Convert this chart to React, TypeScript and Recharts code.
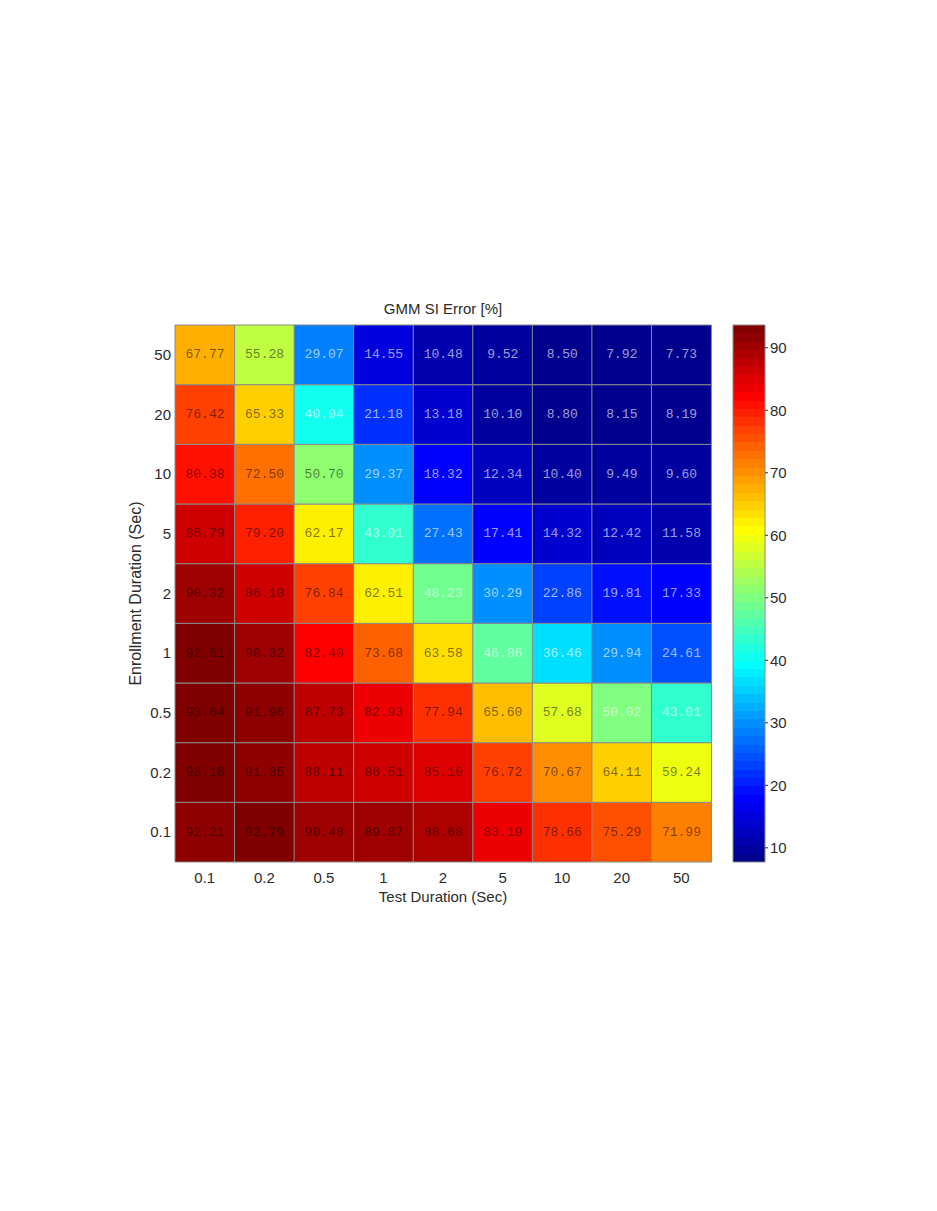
import React from 'react';
import { BarChart, Bar, XAxis, YAxis, Cell, LabelList } from 'recharts';

const testDurations = ['0.1', '0.2', '0.5', '1', '2', '5', '10', '20', '50'];
const enrollDurations = ['0.1', '0.2', '0.5', '1', '2', '5', '10', '20', '50'];

// SI error [%] for each enrollment duration, columns follow testDurations
const enroll0_1 = [92.21, 92.79, 90.48, 89.87, 88.68, 83.19, 78.66, 75.29, 71.99];
const enroll0_2 = [93.18, 91.35, 88.11, 86.51, 85.1, 76.72, 70.67, 64.11, 59.24];
const enroll0_5 = [93.64, 91.96, 87.73, 82.93, 77.94, 65.6, 57.68, 50.02, 43.01];
const enroll1 = [92.61, 90.32, 82.4, 73.68, 63.58, 46.86, 36.46, 29.94, 24.61];
const enroll2 = [90.32, 86.1, 76.84, 62.51, 48.23, 30.29, 22.86, 19.81, 17.33];
const enroll5 = [85.79, 79.2, 62.17, 43.01, 27.43, 17.41, 14.32, 12.42, 11.58];
const enroll10 = [80.38, 72.5, 50.7, 29.37, 18.32, 12.34, 10.4, 9.49, 9.6];
const enroll20 = [76.42, 65.33, 40.04, 21.18, 13.18, 10.1, 8.8, 8.15, 8.19];
const enroll50 = [67.77, 55.28, 29.07, 14.55, 10.48, 9.52, 8.5, 7.92, 7.73];

const colorbarTicks = [10, 20, 30, 40, 50, 60, 70, 80, 90];

// bottom row first (stack order)
const enrollRows = [enroll0_1, enroll0_2, enroll0_5, enroll1, enroll2, enroll5, enroll10, enroll20, enroll50];

const allValues = enrollRows.flat();
const minV = Math.min(...allValues);
const maxV = Math.max(...allValues);
const midV = (minV + maxV) / 2;

// matlab jet(64)
const JET: number[][] = (() => {
  const m = 64;
  const n = 16;
  const u: number[] = [];
  for (let i = 1; i <= n; i++) u.push(i / n);
  for (let i = 1; i < n; i++) u.push(1);
  for (let i = n; i >= 1; i--) u.push(i / n);
  const J = Array.from({ length: m }, () => [0, 0, 0]);
  u.forEach((val, k) => {
    const g = 9 + k;
    const r = g + n;
    const b = g - n;
    if (r <= m) J[r - 1][0] = val;
    J[g - 1][1] = val;
    if (b >= 1) J[b - 1][2] = val;
  });
  return J;
})();

const toRgb = (c: number[]) =>
  `rgb(${Math.round(c[0] * 255)},${Math.round(c[1] * 255)},${Math.round(c[2] * 255)})`;

function jetColor(v: number): string {
  const t = (v - minV) / (maxV - minV);
  const idx = Math.min(63, Math.max(0, Math.floor(t * 64)));
  return toRgb(JET[idx]);
}

const cellData = testDurations.map((test, i) => {
  const row: Record<string, any> = { test };
  enrollRows.forEach((vals, j) => {
    row[`u${j}`] = 1;
    row[`v${j}`] = vals[i];
  });
  return row;
});

const colorbarData = [{ name: 'scale', range: [minV, maxV] }];

const sansFont = "'Liberation Sans', Arial, Helvetica, sans-serif";
const monoFont = "'Liberation Mono', 'DejaVu Sans Mono', monospace";
const textColor = '#2b2b2b';

const renderCellLabel = (props: any) => {
  const { x, y, width, height, value } = props;
  if (value == null) return null;
  const light = value < midV;
  return (
    <text
      x={Number(x) + Number(width) / 2}
      y={Number(y) + Number(height) / 2}
      textAnchor="middle"
      dominantBaseline="central"
      fontFamily={monoFont}
      fontSize={13}
      fill={light ? 'rgba(255,255,255,0.62)' : 'rgba(0,0,0,0.5)'}
    >
      {Number(value).toFixed(2)}
    </text>
  );
};

export default function App() {
  return (
    <div style={{ position: 'absolute', left: 0, top: 0, width: 937, height: 1211, background: '#fff' }}>
      <div
        style={{
          position: 'absolute',
          left: 175,
          top: 300,
          width: 536,
          textAlign: 'center',
          fontFamily: sansFont,
          fontSize: 15,
          lineHeight: '17px',
          color: textColor,
        }}
      >
        GMM SI Error [%]
      </div>

      <div style={{ position: 'absolute', left: 0, top: 0 }}>
        <BarChart
          width={760}
          height={920}
          data={cellData}
          margin={{ top: 325, right: 49, bottom: 13, left: 115 }}
          barCategoryGap={0}
          barGap={0}
        >
          <XAxis
            dataKey="test"
            height={45}
            tickLine={false}
            axisLine={false}
            tickSize={6}
            tickMargin={4}
            tick={{ fontSize: 15, fill: textColor, fontFamily: sansFont }}
            label={{
              value: 'Test Duration (Sec)',
              position: 'insideBottom',
              offset: 5,
              fontSize: 15,
              fill: textColor,
              fontFamily: sansFont,
            }}
          />
          <YAxis
            type="number"
            domain={[0, enrollDurations.length]}
            ticks={enrollDurations.map((_, j) => j + 0.5)}
            tickFormatter={(v: number) => enrollDurations[Math.floor(v)]}
            width={60}
            tickLine={false}
            axisLine={false}
            tickSize={2}
            tickMargin={2}
            tick={{ fontSize: 15, fill: textColor, fontFamily: sansFont }}
            label={{
              value: 'Enrollment Duration (Sec)',
              angle: -90,
              position: 'insideLeft',
              offset: 20,
              textAnchor: 'middle',
              fontSize: 16,
              fill: textColor,
              fontFamily: sansFont,
            }}
          />
          {enrollRows.map((vals, j) => (
            <Bar key={j} dataKey={`u${j}`} stackId="grid" isAnimationActive={false}>
              {vals.map((v, i) => (
                <Cell key={i} fill={jetColor(v)} stroke="#8a8a8a" strokeWidth={1} />
              ))}
              <LabelList dataKey={`v${j}`} content={renderCellLabel} />
            </Bar>
          ))}
        </BarChart>
      </div>

      <div style={{ position: 'absolute', left: 713, top: 300 }}>
        <BarChart
          width={110}
          height={600}
          data={colorbarData}
          margin={{ top: 25, right: 10, bottom: 38, left: 20 }}
          barCategoryGap={0}
        >
          <defs>
            <linearGradient id="jetGrad" x1="0" y1="1" x2="0" y2="0">
              {JET.flatMap((c, k) => [
                <stop key={`a${k}`} offset={k / 64} stopColor={toRgb(c)} />,
                <stop key={`b${k}`} offset={(k + 1) / 64} stopColor={toRgb(c)} />,
              ])}
            </linearGradient>
          </defs>
          <XAxis dataKey="name" hide />
          <YAxis
            orientation="right"
            type="number"
            domain={[minV, maxV]}
            ticks={colorbarTicks}
            width={48}
            axisLine={false}
            tickSize={3}
            tickMargin={2}
            tickLine={{ stroke: '#333' }}
            tick={{ fontSize: 15, fill: textColor, fontFamily: sansFont }}
          />
          <Bar dataKey="range" fill="url(#jetGrad)" stroke="#8a8a8a" isAnimationActive={false} />
        </BarChart>
      </div>
    </div>
  );
}
